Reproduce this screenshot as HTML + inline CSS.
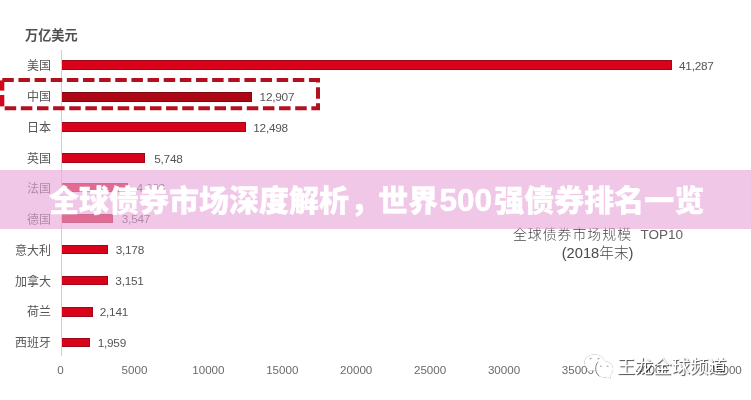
<!DOCTYPE html>
<html lang="zh-CN">
<head>
<meta charset="utf-8">
<title>全球债券市场深度解析，世界500强债券排名一览</title>
<style>
html,body{margin:0;padding:0;background:#fff;}
body{width:751px;height:400px;overflow:hidden;position:relative;font-family:"Liberation Sans","Noto Sans CJK SC",sans-serif;}
#chart{position:absolute;left:0;top:0;width:751px;height:400px;overflow:hidden;background:#fff;filter:blur(.35px);}
.unit{position:absolute;left:25px;top:25px;height:22px;line-height:22px;font-size:13.2px;font-weight:700;color:#505050;white-space:nowrap;}
.axis{position:absolute;left:61px;top:50px;width:1px;height:306px;background:#cfcfcf;}
.lab{position:absolute;left:0;width:51px;height:20px;line-height:20px;text-align:right;font-size:12px;color:#555;white-space:nowrap;}
.bar{position:absolute;left:62px;height:9.6px;box-sizing:border-box;background:#d8021a;border:1px solid #9c0a1a;border-left:none;}
.bar.dk{background:#ad0614;border-color:#7d0812;}
.val{position:absolute;height:20px;line-height:20px;font-size:11.8px;letter-spacing:-.25px;color:#555;white-space:nowrap;}
.tick{position:absolute;top:360px;width:60px;height:20px;line-height:20px;text-align:center;font-size:11.6px;color:#6a6a6a;white-space:nowrap;}
.cap{position:absolute;left:497.6px;width:200px;text-align:center;font-size:14.7px;color:#4a4a4a;font-weight:300;white-space:nowrap;}
.cap.c1{left:512.9px;width:auto;text-align:left;font-size:13.9px;letter-spacing:1px;}
.cap .en{font-size:13.5px;margin-left:3.5px;color:#606060;letter-spacing:0;}
#dash{position:absolute;left:0;top:0;}
#wm{position:absolute;left:616.8px;top:354px;height:26px;line-height:26px;font-size:18.3px;color:#fff;white-space:nowrap;text-shadow:1px 1px .8px rgba(0,0,0,.7);}
#wx{position:absolute;left:580px;top:350px;}
#band{position:absolute;left:0;top:170px;width:751px;height:59px;background:rgba(232,168,218,.64);}
#title{position:absolute;left:1px;top:171px;width:751px;height:59px;line-height:59px;text-align:center;font-size:30px;font-weight:900;color:#fff;white-space:nowrap;margin:0;-webkit-text-stroke:.35px #fff;}
#title span{position:relative;}
#title .n{font-weight:700;font-size:31.5px;-webkit-text-stroke:.5px #fff;}
</style>
</head>
<body>
<div id="chart">
<div class="unit">万亿美元</div>
<div class="axis"></div>
<div class="lab" style="top:56.20px">美国</div>
<div class="bar" style="top:60.30px;width:610.05px"></div>
<div class="val" style="top:55.50px;left:679.05px">41,287</div>
<div class="lab" style="top:86.60px">中国</div>
<div class="bar dk" style="top:92.10px;width:190.02px"></div>
<div class="val" style="top:87.30px;left:259.62px">12,907</div>
<div class="lab" style="top:118.10px">日本</div>
<div class="bar" style="top:122.30px;width:183.97px"></div>
<div class="val" style="top:117.50px;left:253.27px">12,498</div>
<div class="lab" style="top:148.70px">英国</div>
<div class="bar" style="top:153.30px;width:83.07px"></div>
<div class="val" style="top:148.50px;left:154.27px">5,748</div>
<div class="lab" style="top:179.30px">法国</div>
<div class="bar" style="top:182.60px;width:65.90px"></div>
<div class="val" style="top:177.80px;left:136.50px">4,608</div>
<div class="lab" style="top:210.10px">德国</div>
<div class="bar" style="top:213.60px;width:50.90px"></div>
<div class="val" style="top:208.80px;left:121.80px">3,547</div>
<div class="lab" style="top:241.00px">意大利</div>
<div class="bar" style="top:244.90px;width:46.03px"></div>
<div class="val" style="top:240.10px;left:115.73px">3,178</div>
<div class="lab" style="top:271.50px">加拿大</div>
<div class="bar" style="top:275.90px;width:45.63px"></div>
<div class="val" style="top:271.10px;left:115.33px">3,151</div>
<div class="lab" style="top:301.90px">荷兰</div>
<div class="bar" style="top:307.10px;width:30.69px"></div>
<div class="val" style="top:302.30px;left:99.79px">2,141</div>
<div class="lab" style="top:332.60px">西班牙</div>
<div class="bar" style="top:337.90px;width:27.99px"></div>
<div class="val" style="top:333.10px;left:97.69px">1,959</div>
<div class="tick" style="left:30.60px">0</div>
<div class="tick" style="left:104.50px">5000</div>
<div class="tick" style="left:178.40px">10000</div>
<div class="tick" style="left:252.30px">15000</div>
<div class="tick" style="left:326.20px">20000</div>
<div class="tick" style="left:400.10px">25000</div>
<div class="tick" style="left:474.00px">30000</div>
<div class="tick" style="left:547.90px">35000</div>
<div class="tick" style="left:621.80px">40000</div>
<div class="tick" style="left:695.70px">45000</div>
<div class="cap c1" style="top:224px;height:20px;line-height:20px">全球债券市场规模 <span class="en">TOP10</span></div>
<div class="cap" style="top:243px;height:20px;line-height:20px">(2018年末)</div>
<svg id="dash" width="751" height="400" viewBox="0 0 751 400"><path d="M2.3,80.1 H318 V108.2 H1.5" fill="none" stroke="#b2101f" stroke-width="4" stroke-dasharray="11.5 4.64"/><rect x="0" y="80.4" width="4.3" height="10.2" fill="#d3061c"/><rect x="0" y="95" width="4.3" height="11.4" fill="#d3061c"/></svg>
<svg id="wx" width="40" height="34" viewBox="580 350 40 34">
<g fill="#fff" stroke="none" style="filter:drop-shadow(.9px .9px .4px rgba(0,0,0,.6))">
<path d="M594.5,354.2 C589,354.2 584.5,357.9 584.5,362.5 C584.5,365.1 585.9,367.400 588.100,368.900 L587.300,372.300 L590.600,370.300 C591.800,370.600 593.100,370.800 594.500,370.800 C600,370.800 604.500,367.100 604.500,362.500 C604.500,357.900 600,354.200 594.500,354.200 Z"/>
<path d="M604.3,361.100 C599.500,361.100 595.600,364.800 595.600,369.300 C595.600,373.800 599.500,377.500 604.300,377.500 C605.400,377.500 606.500,377.300 607.500,376.900 L610.800,378.700 L609.900,375.600 C611.800,374.100 613,371.800 613,369.300 C613,364.800 609.100,361.100 604.300,361.100 Z"/>
</g>
<path d="M598.2,361.900 C596.400,363.600 595.500,366.300 595.700,369.300 C595.900,372.200 597.300,374.700 599.300,376.200" fill="none" stroke="#777" stroke-width=".9"/>
<g fill="#aaa"><ellipse cx="590.6" cy="358.6" rx="1.1" ry=".8"/><ellipse cx="598.5" cy="358.6" rx="1.1" ry=".8"/><ellipse cx="600.8" cy="366.200" rx="1" ry=".7"/><ellipse cx="607.6" cy="366.200" rx="1" ry=".7"/></g>
</svg>
<div id="wm">王龙全球频道</div>
</div>
<div id="band"></div>
<h1 id="title"><span style="left:-1.3px">全球债券市场深度解析</span>，<span style="left:-2px">世界</span><span class="n" style="left:-.8px">500</span><span style="left:1.4px">强债券排名一览</span></h1>
</body>
</html>
